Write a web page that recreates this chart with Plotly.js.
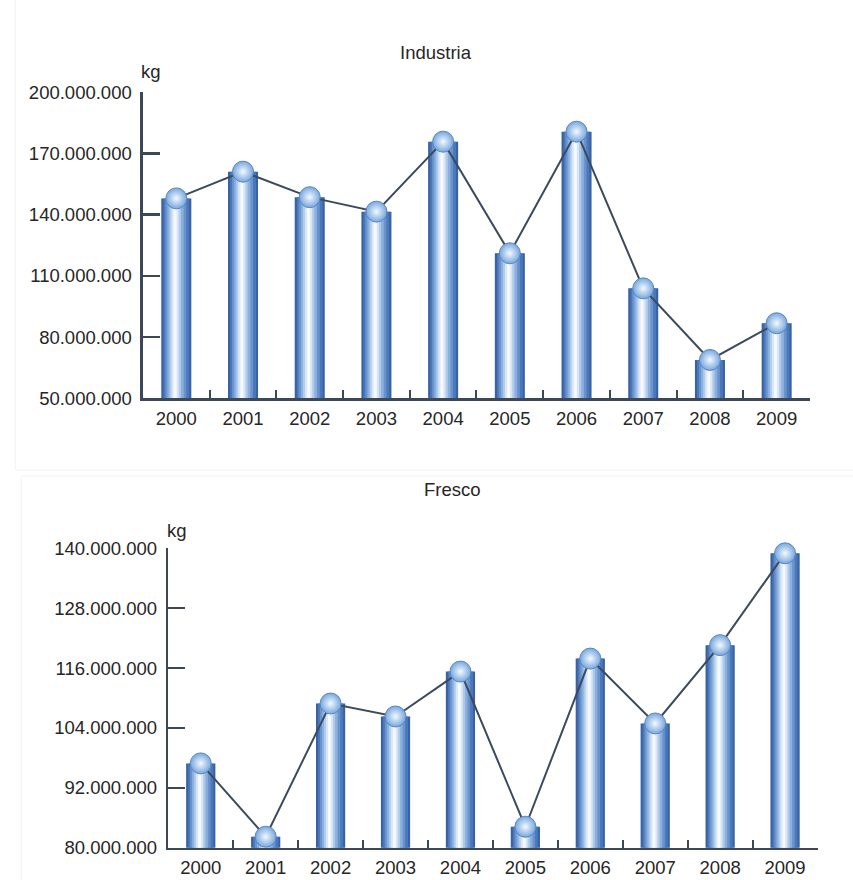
<!DOCTYPE html>
<html>
<head>
<meta charset="utf-8">
<script src="https://cdn.plot.ly/plotly-3.0.1.min.js"></script>
<style>
  html, body { margin: 0; padding: 0; background: #ffffff; }
  #chart { width: 853px; height: 880px; }
</style>
</head>
<body>
<div id="chart"></div>
<script>
// Years on the category axis
const years = ['2000', '2001', '2002', '2003', '2004', '2005', '2006', '2007', '2008', '2009'];

// Kilograms per year
const industriaKg = [148.0e6, 161.1e6, 148.6e6, 141.5e6, 175.8e6, 121.1e6, 180.7e6, 103.9e6, 68.8e6, 86.8e6];
const frescoKg    = [96.9e6, 82.2e6, 108.9e6, 106.3e6, 115.3e6, 84.2e6, 117.9e6, 104.9e6, 120.6e6, 139.0e6];

// Value-axis ticks
const industriaTicks = [50e6, 80e6, 110e6, 140e6, 170e6, 200e6];
const frescoTicks    = [80e6, 92e6, 104e6, 116e6, 128e6, 140e6];

const panelTitles = ['Industria', 'Fresco'];
const unitLabel = 'kg';

// Spanish-style thousands grouping: 200.000.000
function fmtKg(v) {
  return String(Math.round(v)).replace(/\B(?=(\d{3})+(?!\d))/g, '.');
}

// Cylinder shading: stacked overlay bars, outer (dark) to inner (highlight)
const BAR_W = 0.45;
const shade = [
  { f: 1.00, shift: 0.000, color: '#3862a3' },
  { f: 0.86, shift: 0.000, color: '#4b78ba' },
  { f: 0.70, shift: 0.008, color: '#6893cd' },
  { f: 0.54, shift: 0.012, color: '#8bb0de' },
  { f: 0.38, shift: 0.016, color: '#b2cbeb' },
  { f: 0.24, shift: 0.018, color: '#d8e6f6' },
  { f: 0.10, shift: 0.018, color: '#f6f9fe' }
];

const INK = '#262626';
const AXIS = '#3d4856';
const LINE = '#3b4a5e';

function panelTraces(values, xa, ya) {
  const out = [];
  shade.forEach(s => {
    const w = BAR_W * s.f;
    out.push({
      type: 'bar', x: years, y: values, xaxis: xa, yaxis: ya,
      width: w, offset: -w / 2 - s.shift,
      marker: { color: s.color, line: { width: 0 } },
      hoverinfo: 'skip', showlegend: false
    });
  });
  out.push({
    type: 'scatter', mode: 'lines+markers', x: years, y: values, xaxis: xa, yaxis: ya,
    line: { color: LINE, width: 2 },
    marker: {
      symbol: 'circle', size: 21, color: '#76a7de',
      gradient: { type: 'radial', color: '#f4f9fe' },
      line: { color: '#5a86c0', width: 1 }
    },
    cliponaxis: false, hoverinfo: 'skip', showlegend: false
  });
  return out;
}

const data = panelTraces(industriaKg, 'x', 'y').concat(panelTraces(frescoKg, 'x2', 'y2'));

const tickFont = { family: 'Liberation Sans, Arial, sans-serif', size: 18.5, color: INK };

function xAxis(domain, anchor) {
  return {
    domain: domain, anchor: anchor, type: 'category',
    range: [-0.5, 9.5], tickson: 'boundaries',
    ticks: 'inside', ticklen: 8, tickwidth: 2, tickcolor: AXIS,
    showline: true, linecolor: AXIS, linewidth: 2.5,
    showgrid: false, zeroline: false, fixedrange: true,
    tickfont: tickFont, ticklabelstandoff: 2
  };
}

function yAxis(domain, anchor, ticks) {
  return {
    domain: domain, anchor: anchor,
    range: [ticks[0], ticks[ticks.length - 1]],
    tickmode: 'array', tickvals: ticks, ticktext: ticks.map(fmtKg),
    ticks: 'inside', ticklen: 17, tickwidth: 2.5, tickcolor: AXIS,
    showline: true, linecolor: AXIS, linewidth: 2.5,
    showgrid: false, zeroline: false, fixedrange: true,
    tickfont: tickFont, ticklabelstandoff: 5
  };
}

const textFont = { family: 'Liberation Sans, Arial, sans-serif', size: 18.5, color: INK };

const layout = {
  width: 853, height: 880,
  margin: { l: 0, r: 0, t: 0, b: 0 },
  paper_bgcolor: '#ffffff', plot_bgcolor: 'rgba(0,0,0,0)',
  barmode: 'overlay',
  showlegend: false,
  xaxis:  xAxis([0.1676, 0.9496], 'y'),
  yaxis:  yAxis([0.5474, 0.8951], 'x', industriaTicks),
  xaxis2: xAxis([0.1973, 0.9584], 'y2'),
  yaxis2: yAxis([0.0367, 0.3769], 'x2', frescoTicks),
  annotations: [
    { text: panelTitles[0], xref: 'paper', yref: 'paper', x: 0.511, y: 0.9398,
      xanchor: 'center', yanchor: 'middle', showarrow: false, font: textFont },
    { text: panelTitles[1], xref: 'paper', yref: 'paper', x: 0.531, y: 0.4432,
      xanchor: 'center', yanchor: 'middle', showarrow: false, font: textFont },
    { text: unitLabel, xref: 'paper', yref: 'paper', x: 0.177, y: 0.9185,
      xanchor: 'center', yanchor: 'middle', showarrow: false, font: textFont },
    { text: unitLabel, xref: 'paper', yref: 'paper', x: 0.208, y: 0.3977,
      xanchor: 'center', yanchor: 'middle', showarrow: false, font: textFont }
  ],
  shapes: [
    // faint frames around the two panels
    { type: 'rect', xref: 'paper', yref: 'paper', x0: 0.018, x1: 1.02, y0: 0.466, y1: 1.02,
      line: { color: '#f3f3f3', width: 1 }, fillcolor: 'rgba(0,0,0,0)', layer: 'below' },
    { type: 'rect', xref: 'paper', yref: 'paper', x0: 0.025, x1: 1.02, y0: -0.02, y1: 0.459,
      line: { color: '#f3f3f3', width: 1 }, fillcolor: 'rgba(0,0,0,0)', layer: 'below' }
  ]
};

Plotly.newPlot('chart', data, layout, { staticPlot: true, displayModeBar: false });
</script>
</body>
</html>
